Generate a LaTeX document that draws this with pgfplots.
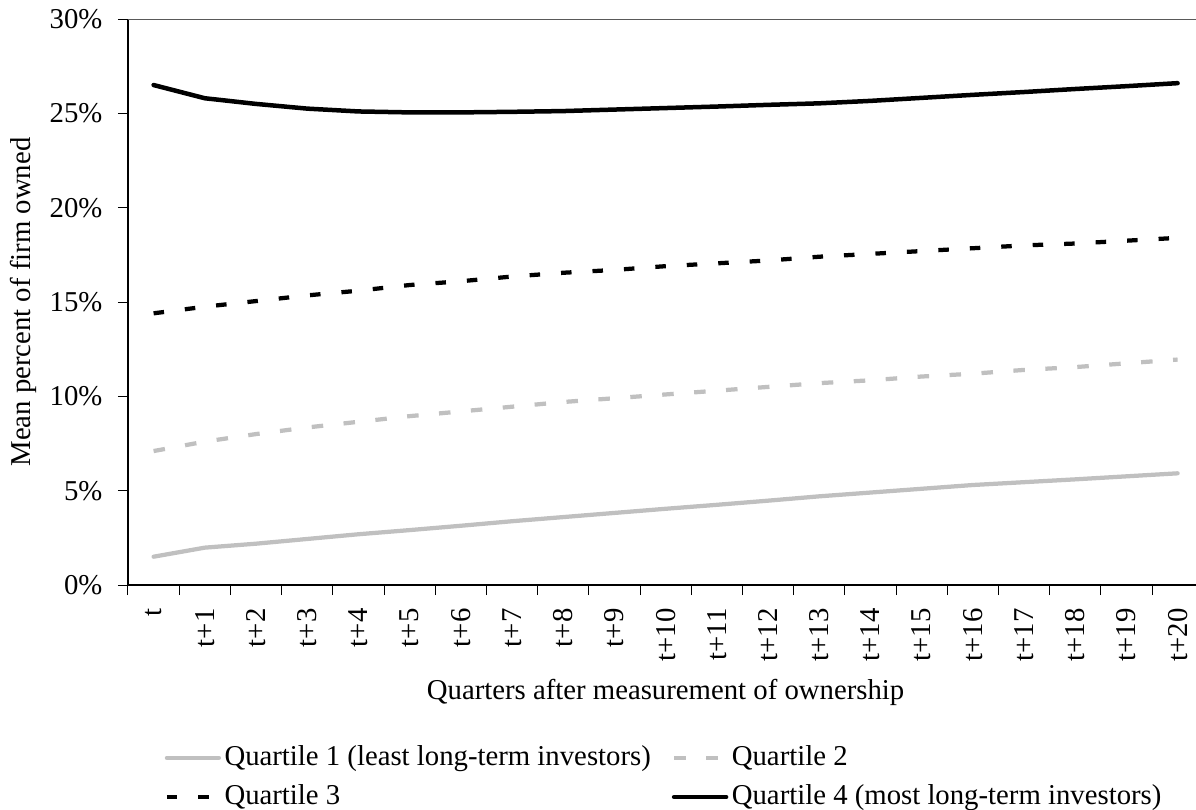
\documentclass[border=0pt]{standalone}
\usepackage{fontspec}
\setmainfont{Liberation Serif}
\usepackage{pgfplots}
\pgfplotsset{compat=1.18}
\usepackage{pgfplotstable}

\definecolor{qgrey}{HTML}{C0C0C0}
\definecolor{topline}{HTML}{595959}

% mean percent of firm owned, by quartile, quarters t .. t+20
\pgfplotstableread{
k  q1    q2     q3     q4
0  1.50  7.10   14.40  26.50
1  1.98  7.60   14.75  25.80
2  2.19  8.00   15.05  25.50
3  2.44  8.35   15.35  25.25
4  2.69  8.65   15.60  25.10
5  2.91  8.95   15.90  25.05
6  3.14  9.20   16.10  25.05
7  3.38  9.45   16.35  25.08
8  3.60  9.70   16.55  25.12
9  3.82  9.90   16.70  25.20
10 4.04  10.10  16.90  25.28
11 4.25  10.30  17.05  25.36
12 4.47  10.50  17.20  25.45
13 4.70  10.70  17.40  25.53
14 4.90  10.85  17.55  25.66
15 5.10  11.05  17.70  25.82
16 5.30  11.20  17.85  25.98
17 5.45  11.40  18.00  26.13
18 5.60  11.55  18.10  26.29
19 5.76  11.75  18.25  26.44
20 5.92  11.95  18.40  26.60
}\owntable

\begin{document}
\fontsize{11.5}{13.8}\selectfont
\begin{tikzpicture}
  \begin{axis}[
      name=ax,
      scale only axis,
      width=430.08pt,
      height=226.4pt,
      xmin=-0.5, xmax=20.5,
      ymin=0, ymax=30,
      axis x line=bottom,
      axis y line=left,
      axis line style={-, line width=0.8pt},
      xtick={0,...,20},
      xticklabels={t,t+1,t+2,t+3,t+4,t+5,t+6,t+7,t+8,t+9,t+10,t+11,t+12,t+13,t+14,t+15,t+16,t+17,t+18,t+19,t+20},
      major x tick style={draw=none},
      minor xtick={-0.5,0.5,...,19.5},
      ytick={0,5,...,30},
      yticklabels={0\%,5\%,10\%,15\%,20\%,25\%,30\%},
      tick align=outside,
      major tick length=4pt,
      minor tick length=4pt,
      tick style={black, line width=0.4pt},
      x tick label style={rotate=90, anchor=east},
      xticklabel shift=1.4pt,
      yticklabel shift=2.2pt,
      xlabel={Quarters after measurement of ownership},
      ylabel={Mean percent of firm owned},
      every axis x label/.style={at={(axis description cs:0.5,-0.2014)}, anchor=base},
      every axis y label/.style={at={(axis description cs:-0.0911,0.5)}, rotate=90, anchor=base},
      legend columns=2,
      legend cell align=left,
      legend image code/.code={\draw[#1] (0pt,0pt) -- (20.8pt,0pt);},
      legend style={draw=none, fill=none, inner sep=0pt, outer sep=0pt,
        at={(axis description cs:0.5,-0.275)}, anchor=north,
        /tikz/every odd column/.append style={column sep=-0.6pt},
        /tikz/every even column/.append style={column sep=6.4pt},
        row sep=2pt},
    ]
    \draw[topline, line width=0.5pt] (rel axis cs:0,1) -- (rel axis cs:1,1);

    \addplot[qgrey, line width=1.7pt, line cap=round, line join=round]
      table[x=k, y=q1] {\owntable};
    \addplot[qgrey, line width=1.7pt, dash pattern=on 4.6pt off 8.2pt]
      table[x=k, y=q2] {\owntable};
    \addplot[black, line width=1.7pt, dash pattern=on 4.2pt off 8.4pt]
      table[x=k, y=q3] {\owntable};
    \addplot[black, line width=1.8pt, line cap=round, line join=round]
      table[x=k, y=q4] {\owntable};
    \legend{Quartile 1 (least long-term investors), Quartile 2,
      Quartile 3, Quartile 4 (most long-term investors)}
  \end{axis}
  \pgfresetboundingbox
  \path[use as bounding box] ([xshift=-51.2pt, yshift=-89.6pt]ax.south west)
    rectangle ([xshift=-2.88pt, yshift=7.6pt]ax.north east);
\end{tikzpicture}
\end{document}
